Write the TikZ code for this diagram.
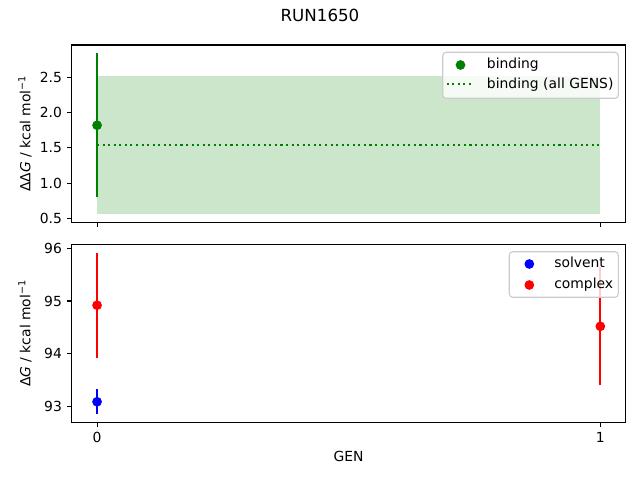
\documentclass[tikz,border=0pt]{standalone}
\usepackage{fontspec}
\setmainfont{DejaVu Sans}
\definecolor{bindgreen}{RGB}{0, 128, 0}
\definecolor{solvblue}{RGB}{0, 0, 255}
\definecolor{cplxred}{RGB}{255, 0, 0}
\definecolor{framegray}{RGB}{204, 204, 204}
\usetikzlibrary{positioning}

\begin{document}
\begin{tikzpicture}[x=0.01in, y=-0.01in,
    txt/.style={inner sep=0pt, font=\fontsize{10bp}{12bp}\selectfont},
    spine/.style={line width=0.8bp, black},
    tickmark/.style={line width=0.8bp, black},
    errbar/.style={line width=1.5bp},
    legendbox/.style={draw=framegray, line width=0.8bp, fill=white, fill opacity=0.8, rounded corners=2.5bp}]
  \useasboundingbox (0, 0) rectangle (640, 480);

  \node[txt, font=\fontsize{12bp}{14bp}\selectfont] (title) at (320, 15.5) {RUN1650};

  % Top panel: binding free energy
  \begin{scope}[shift={(0.97in, -2.5383in)}, x=5.03in, y=0.7069in]
    \fill[bindgreen, opacity=0.2] (0, 0.56) rectangle (1, 2.52);
    \draw[bindgreen, line width=1.5bp, dash pattern=on 1.5bp off 2.5bp] (0, 1.54) -- (1, 1.54);
    \draw[errbar, bindgreen] (0, 0.80) -- (0, 2.84);
    \fill[bindgreen] (0, 1.82) circle[radius=3.5bp];
    \draw[spine] (-0.05, 0.446) rectangle (1.05, 2.954);
    \foreach \v in {0.5, 1.0, 1.5, 2.0, 2.5} {
      \draw[tickmark] (-0.05, \v) -- ++(-3.5bp, 0);
      \node[txt, anchor=east] at ([xshift=-7bp] -0.05, \v) {\v};
    }
    \foreach \g in {0, 1}
      \draw[tickmark] (\g, 0.446) -- ++(0, -3.5bp);
  \end{scope}
  \node[txt, rotate=90] (ddglabel) at (25, 133.5) {ΔΔ\textit{G} / kcal mol\textsuperscript{−1}};

  % Top legend
  \draw[legendbox] (442.7, 52.3) rectangle (618.3, 98.3);
  \fill[bindgreen] (460.5, 65) circle[radius=3.5bp];
  \draw[bindgreen, line width=1.5bp, dash pattern=on 1.5bp off 2.5bp] (446.7, 84.3) -- (474.2, 84.3);
  \node[txt, anchor=base west] (legbind) at (486.7, 69) {binding};
  \node[txt, anchor=base west] (legall) at (486.7, 88.3) {binding (all GENS)};

  % Bottom panel: solvent and complex legs
  \begin{scope}[shift={(0.97in, -53.083in)}, x=5.03in, y=0.5271in]
    \draw[errbar, solvblue] (0, 92.85) -- (0, 93.33);
    \fill[solvblue] (0, 93.09) circle[radius=3.5bp];
    \draw[errbar, cplxred] (0, 93.92) -- (0, 95.92);
    \fill[cplxred] (0, 94.92) circle[radius=3.5bp];
    \draw[errbar, cplxred] (1, 93.40) -- (1, 95.64);
    \fill[cplxred] (1, 94.52) circle[radius=3.5bp];
    \draw[spine] (-0.05, 92.6965) rectangle (1.05, 96.0735);
    \foreach \v in {93, 94, 95, 96} {
      \draw[tickmark] (-0.05, \v) -- ++(-3.5bp, 0);
      \node[txt, anchor=east] at ([xshift=-7bp] -0.05, \v) {\v};
    }
    \foreach \g in {0, 1} {
      \draw[tickmark] (\g, 92.6965) -- ++(0, -3.5bp);
      \node[txt, anchor=north] at ([yshift=-7bp] \g, 92.6965) {\g};
    }
  \end{scope}
  \node[txt, rotate=90] (dglabel) at (25, 333.3) {Δ\textit{G} / kcal mol\textsuperscript{−1}};
  \node[txt] (genlabel) at (348.5, 456.7) {GEN};

  % Bottom legend
  \draw[legendbox] (509.3, 251.7) rectangle (618.3, 297.3);
  \fill[solvblue] (529.3, 264) circle[radius=3.5bp];
  \fill[cplxred] (529.3, 285) circle[radius=3.5bp];
  \node[txt, anchor=base west] (legsolv) at (554, 268) {solvent};
  \node[txt, anchor=base west] (legcplx) at (554, 289) {complex};
\end{tikzpicture}
\end{document}
